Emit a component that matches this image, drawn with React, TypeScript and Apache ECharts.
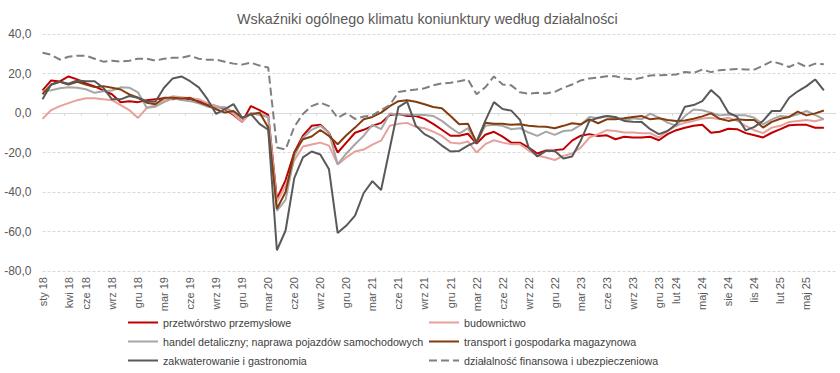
import React, { useEffect, useRef } from "react";
import * as echarts from "echarts";

// Month index 0 = sty 18 ... 90 = lip 25
const tickIndices = [0, 3, 5, 8, 11, 14, 17, 20, 23, 26, 29, 32, 35, 38, 41, 44, 47, 50, 53, 56, 59, 62, 65, 68, 71, 73, 76, 79, 82, 85, 88];
const tickLabels = ["sty 18", "kwi 18", "cze 18", "wrz 18", "gru 18", "mar 19", "cze 19", "wrz 19", "gru 19", "mar 20", "cze 20", "wrz 20", "gru 20", "mar 21", "cze 21", "wrz 21", "gru 21", "mar 22", "cze 22", "wrz 22", "gru 22", "mar 23", "cze 23", "wrz 23", "gru 23", "lut 24", "maj 24", "sie 24", "lis 24", "lut 25", "maj 25"];

const seriesNames = [
  "przetwórstwo przemysłowe",
  "budownictwo",
  "handel detaliczny; naprawa pojazdów samochodowych",
  "transport i gospodarka magazynowa",
  "zakwaterowanie i gastronomia",
  "działalność finansowa i ubezpieczeniowa",
];

const przetworstwo = [11.5, 16.5, 16, 18.5, 17, 15, 13.5, 11.5, 9.5, 5.5, 6, 5.5, 6.5, 7, 7.5, 7, 7.5, 7, 6, 4.5, 3.5, 2, -1, -4.5, 3.5, 1.5, -1, -43.5, -34, -20, -11.5, -6.5, -6, -10, -20, -15, -10, -8.5, -6.5, -5, -1, -0.5, -1.5, -1.5, -3, -5.5, -8.5, -11.5, -11.5, -10.5, -15.5, -11, -9.5, -12, -15, -15, -17.5, -20.5, -19, -18.8, -18.3, -14, -11.5, -10.7, -11.6, -11.3, -13.3, -12, -12.4, -12.4, -12, -13.8, -10.7, -8.7, -7.5, -6.5, -6, -10, -9.5, -8, -8.2, -10.2, -11.3, -12.4, -10, -8.2, -6.2, -6, -6, -7.5, -7.5];
const budownictwo = [-3, 1.5, 3.5, 5, 6.5, 7.5, 7.5, 7, 6.5, 4, 1.5, -2.5, 2.5, 4, 6.5, 8.5, 8, 7.5, 7, 5, 3.5, 2.5, -0.5, -4.5, 0, -0.5, -2, -45, -37, -24, -17, -16, -15, -16.5, -26, -22.5, -19.5, -18.5, -16, -14, -6.5, -5.5, -5, -7, -7.7, -9.4, -11.6, -15, -15.5, -14.4, -20, -15.8, -13.8, -15, -15.8, -15.8, -19, -21.5, -22.5, -23.8, -21.7, -20.5, -17.5, -12.4, -10.7, -8.7, -9.1, -9.9, -9.9, -10.2, -10.2, -12.4, -9.1, -6.5, -4.9, -4, -2.8, -2.4, -3.2, -2.4, -4, -6.5, -8.7, -10.2, -7.4, -6.5, -4.5, -4, -3.5, -4.2, -3];
const handel = [11, 11.5, 12.5, 13, 12.8, 12, 10.2, 11, 11.4, 13, 12.8, 10.5, 2.7, 3.2, 5.5, 7.4, 6.6, 6, 4.9, 3.2, 2.7, 3, 0.5, -2.9, -0.2, -1, -2, -49.5, -44, -22, -12.5, -8.5, -6.5, -10, -26, -20.5, -15.8, -11.5, -6, -8.2, -0.3, -0.7, -0.7, -1, -1, -1.5, -4, -7.4, -10.4, -7.7, -15, -6.5, -6, -6.5, -8.2, -7.7, -9.9, -11.6, -9.4, -11.1, -9.1, -8.7, -6, -2, -2.7, -1.5, -2.7, -3.7, -2.7, -3.2, -0.3, -2.4, -4.9, -6.5, -1.5, 1.8, 1.4, 0.2, -1.2, -0.7, -1.2, -1.2, -2.4, -5.7, -3.2, -1.5, -1.9, -0.7, 1, -1, -3.2];
const transport = [9.5, 14.4, 15.8, 14.4, 15.8, 14.4, 13.1, 13.6, 12.8, 11.9, 9.4, 7.7, 5.2, 4.4, 7.7, 7.7, 7.4, 7.7, 5.5, 3.9, 1.9, 0.2, 1, -2.4, -0.7, 0.2, -7.4, -48.5, -40, -20, -13.3, -11.9, -8.6, -11.6, -15.8, -11.3, -7.4, -3.2, -2, 0.2, 3.5, 6, 6.5, 5.7, 4.4, 3, 2.4, -1.5, -5.7, -5.4, -15, -4.9, -5.4, -5.4, -6, -5.7, -6.5, -6.8, -7, -7.7, -6.5, -5.2, -5.7, -3.2, -5.2, -3.2, -3.2, -2.7, -2, -1.5, -3.2, -2.7, -3.5, -4, -3.8, -2.9, -1.7, -0.2, -2.9, -4, -3.2, -3.5, -3.5, -7.4, -4.5, -2.9, -2, 0.7, -1.2, -0.2, 1.3];
const zakwaterowanie = [7, 14.4, 15.8, 14.8, 16.5, 16.1, 16.1, 12.8, 6.9, 6.9, 8.6, 7.7, 6, 5.7, 12.8, 17.5, 18.5, 16.1, 13, 7, -0.5, 2, 4.5, -2.5, -0.5, -5.5, -8.5, -69.5, -59.5, -33, -22.5, -19.5, -21, -28.5, -60.8, -57, -52, -40.5, -34.5, -39, -18, 3, 5.8, -6.5, -10.7, -13, -16.5, -19.5, -19.2, -16.5, -14.5, -4, 5.5, 2, 1.2, -3.5, -17.5, -22, -19.2, -19.2, -23, -22, -14, -4, -2.4, -1.5, -2, -4, -4.4, -4.5, -8.2, -10.7, -9.1, -5.7, 3.2, 4, 6, 11.6, 7.7, 0.2, -1.9, -8.8, -7, -4, 1, 1, 7.7, 11, 13.6, 17, 11.5];
const finanse = [30.5, 29.5, 27, 28.5, 29, 29, 27.5, 26, 26.5, 26, 26.5, 27.5, 27.5, 26.5, 27.5, 28, 28, 29, 27.5, 27, 27, 26, 25, 24.5, 25.5, 24, 23, -17.5, -18.5, -7, -0.5, 3.5, 5.2, 3.5, -2.5, 0, -3, -1.8, -1.2, 1.5, 4, 10.6, 11.4, 11.9, 12.5, 14, 15, 15.3, 16.1, 17, 9.5, 13, 18.5, 14.4, 14, 10.5, 9.8, 10.2, 9.9, 10.7, 12.8, 14.4, 16.5, 17.5, 18, 18.6, 18.6, 17.5, 17, 17.8, 19, 19.1, 19.3, 19.5, 20.8, 20.3, 22, 20.7, 21.7, 22, 22.3, 22, 22, 24, 26.2, 24.9, 23.3, 25.4, 23.3, 25, 24.7];

const seriesValues = [przetworstwo, budownictwo, handel, transport, zakwaterowanie, finanse];
const seriesColors = ["#c00000", "#e6a19c", "#a6a6a6", "#843c0c", "#595959", "#7f7f7f"];
const seriesDash = ["solid", "solid", "solid", "solid", "solid", "dashed"];
// legend slot per series: [left, top]
const legendSlots = [[127, 317], [428, 317], [127, 336], [428, 336], [127, 355], [428, 355]];

const FONT = "'Liberation Sans', Arial, sans-serif";

export default function App() {
  const ref = useRef<HTMLDivElement>(null);
  useEffect(() => {
    if (!ref.current) return;
    const chart = echarts.init(ref.current, undefined, { renderer: "svg" });
    const series = seriesNames.map((name, k) => ({
      name,
      type: "line",
      data: seriesValues[k].map((v, i) => [i, v]),
      symbol: "none",
      showSymbol: false,
      smooth: false,
      lineStyle: { color: seriesColors[k], width: 2, type: seriesDash[k] as any },
      itemStyle: { color: seriesColors[k], opacity: 0 },
      z: 2 + k,
    }));
    const legends = seriesNames.map((name, k) => ({
      orient: "horizontal",
      left: legendSlots[k][0],
      top: legendSlots[k][1],
      padding: 0,
      itemWidth: 30,
      itemHeight: 12,
      data: [name],
      itemStyle: { opacity: 0 },
      lineStyle: { width: 2 },
      textStyle: { fontFamily: FONT, fontSize: 10.7, color: "#404040" },
    }));
    chart.setOption({
      animation: false,
      backgroundColor: "#ffffff",
      textStyle: { fontFamily: FONT },
      title: {
        text: "Wskaźniki ogólnego klimatu koniunktury według działalności",
        left: 232,
        top: 7,
        textStyle: { fontFamily: FONT, fontSize: 14.3, fontWeight: "normal", color: "#595959" },
      },
      legend: legends,
      grid: { left: 42.5, right: 4, top: 34, bottom: 102, containLabel: false },
      xAxis: [
        {
          type: "value",
          min: 0,
          max: 91.4,
          splitLine: { show: false },
          axisLine: { show: false },
          axisTick: { show: false },
          axisLabel: {
            customValues: tickIndices,
            rotate: 90,
            margin: 6,
            fontFamily: FONT,
            fontSize: 11,
            color: "#595959",
            formatter: (v: number) => {
              const idx = tickIndices.indexOf(Math.round(v));
              return idx >= 0 ? tickLabels[idx] : "";
            },
          },
        },
        {
          type: "value",
          min: 0,
          max: 91.4,
          position: "bottom",
          splitLine: { show: false },
          axisLine: { show: true, onZero: true, onZeroAxisIndex: 0, lineStyle: { color: "#d9d9d9", width: 1 } },
          axisTick: { show: true, customValues: tickIndices.map((t) => t - 0.5), length: 3, lineStyle: { color: "#d9d9d9" } },
          axisLabel: { show: false },
        },
      ],
      yAxis: {
        type: "value",
        min: -80,
        max: 40,
        interval: 20,
        axisLine: { show: false },
        axisTick: { show: false },
        splitLine: { lineStyle: { color: "#d9d9d9", type: [3, 2], width: 1 } },
        axisLabel: {
          margin: 11,
          fontFamily: FONT,
          fontSize: 12,
          color: "#595959",
          formatter: (v: number) => v.toFixed(1).replace(".", ","),
        },
      },
      series,
    });
    return () => chart.dispose();
  }, []);
  return <div ref={ref} style={{ width: 840, height: 373, position: "absolute", left: 0, top: 0 }} />;
}
